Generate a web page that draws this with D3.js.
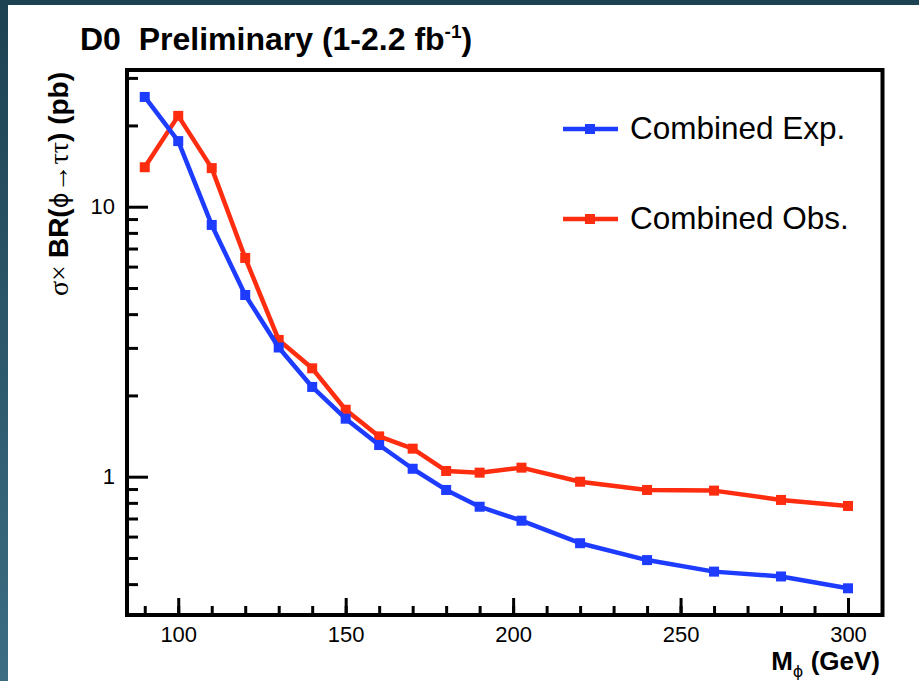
<!DOCTYPE html>
<html>
<head>
<meta charset="utf-8">
<script src="https://cdn.jsdelivr.net/npm/d3@7"></script>
<style>
  html, body { margin: 0; padding: 0; background: #fff; }
  svg { display: block; }
  text { font-family: "Liberation Sans", Arial, Helvetica, sans-serif; fill: #000; white-space: pre; }
</style>
</head>
<body>
<div id="chart"></div>
<script>
// values
const masses = [90, 100, 110, 120, 130, 140, 150, 160, 170, 180, 190, 202.5, 220, 240, 260, 280, 300];
const expLimit = [25.5, 17.5, 8.56, 4.71, 3.01, 2.15, 1.64, 1.31, 1.07, 0.893, 0.774, 0.687, 0.567, 0.491, 0.445, 0.427, 0.386];
const obsLimit = [14.0, 21.7, 13.9, 6.46, 3.21, 2.52, 1.77, 1.41, 1.27, 1.05, 1.035, 1.08, 0.958, 0.893, 0.888, 0.820, 0.779];
const xTickValues = [100, 150, 200, 250, 300];
const yTickValues = [1, 10];
const seriesNames = ["Combined Exp.", "Combined Obs."];

const W = 919, H = 681;
const blue = "#1e3cff", red = "#ff2d10";

const svg = d3.select("#chart").append("svg")
    .attr("width", W)
    .attr("height", H);

// slide background
const grad = svg.append("defs").append("linearGradient")
    .attr("id", "bg").attr("x1", 0).attr("y1", 0).attr("x2", 0).attr("y2", 1);
grad.append("stop").attr("offset", "0%").attr("stop-color", "#1d4252");
grad.append("stop").attr("offset", "100%").attr("stop-color", "#3c6d83");
svg.append("rect").attr("width", W).attr("height", H).attr("fill", "url(#bg)");
svg.append("rect").attr("x", 8).attr("y", 5).attr("width", W - 8).attr("height", H - 5).attr("fill", "#fff");

// frame
const fLeft = 127, fRight = 882.5, fTop = 70, fBottom = 615;

const x = d3.scaleLinear().domain([84.7, 310.3]).range([fLeft, fRight]);
const y = d3.scaleLog().domain([0.3074, 32.09]).range([fBottom, fTop]);

// x axis, ticks point inward
const xMinor = svg.append("g")
    .attr("transform", "translate(0," + fBottom + ")")
    .call(d3.axisBottom(x).tickValues(d3.range(90, 310, 10)).tickSize(-9).tickFormat(""));
const xMajor = svg.append("g")
    .attr("transform", "translate(0," + fBottom + ")")
    .call(d3.axisBottom(x).tickValues(xTickValues).tickSize(-17).tickPadding(11).tickFormat(d3.format("d")));

// y axis
const yMinor = svg.append("g")
    .attr("transform", "translate(" + fLeft + ",0)")
    .call(d3.axisLeft(y).tickValues(y.ticks().filter(d => yTickValues.indexOf(d) < 0)).tickSize(-11).tickFormat(""));
const yMajor = svg.append("g")
    .attr("transform", "translate(" + fLeft + ",0)")
    .call(d3.axisLeft(y).tickValues(yTickValues).tickSize(-21).tickPadding(12).tickFormat(d3.format("d")));

[xMinor, xMajor, yMinor, yMajor].forEach(g => {
    g.select(".domain").remove();
    g.selectAll(".tick line").attr("stroke", "#000").attr("stroke-width", 3);
    g.selectAll(".tick text").attr("font-size", 22).attr("fill", "#000");
});
svg.selectAll("g").attr("font-family", null);
xMajor.selectAll(".tick text").attr("dy", "0.72em");

svg.append("rect")
    .attr("x", fLeft).attr("y", fTop)
    .attr("width", fRight - fLeft).attr("height", fBottom - fTop)
    .attr("fill", "none").attr("stroke", "#000").attr("stroke-width", 4);

// curves
const line = d3.line().x(d => x(d[0])).y(d => y(d[1]));

function drawSeries(values, colour) {
    const pts = masses.map((m, i) => [m, values[i]]);
    svg.append("path")
        .datum(pts)
        .attr("fill", "none")
        .attr("stroke", colour)
        .attr("stroke-width", 4.5)
        .attr("stroke-linejoin", "round")
        .attr("d", line);
    svg.append("g").selectAll("rect")
        .data(pts)
        .enter()
        .append("rect")
        .attr("x", d => x(d[0]) - 5)
        .attr("y", d => y(d[1]) - 5)
        .attr("width", 10)
        .attr("height", 10)
        .attr("fill", colour);
}
drawSeries(obsLimit, red);
drawSeries(expLimit, blue);

// legend
const legendY = [129, 219];
[blue, red].forEach((c, i) => {
    svg.append("line")
        .attr("x1", 563).attr("x2", 618)
        .attr("y1", legendY[i]).attr("y2", legendY[i])
        .attr("stroke", c).attr("stroke-width", 4.5);
    svg.append("rect")
        .attr("x", 585).attr("y", legendY[i] - 5)
        .attr("width", 10).attr("height", 10)
        .attr("fill", c);
    svg.append("text")
        .attr("x", 630).attr("y", legendY[i] + 10)
        .attr("font-size", 31.5)
        .text(seriesNames[i]);
});

// title
const title = svg.append("text")
    .attr("x", 80).attr("y", 50)
    .attr("font-size", 32)
    .attr("font-weight", "bold");
title.append("tspan").text("D0  Preliminary (1-2.2 fb");
title.append("tspan").attr("font-size", 19).attr("dy", -12).text("-1");
title.append("tspan").attr("dy", 12).text(")");

// x axis title
const xt = svg.append("text")
    .attr("x", 880).attr("y", 670)
    .attr("text-anchor", "end")
    .attr("font-size", 26)
    .attr("font-weight", "bold");
xt.append("tspan").text("M");
xt.append("tspan").attr("font-size", 16).attr("dy", 7)
    .attr("font-family", "'DejaVu Sans', sans-serif").attr("font-weight", "normal").text("ϕ");
xt.append("tspan").attr("dy", -7).text(" (GeV)");

// y axis title
const yt = svg.append("text")
    .attr("transform", "translate(68,72) rotate(-90)")
    .attr("text-anchor", "end")
    .attr("font-size", 28);
yt.append("tspan").attr("font-family", "'Liberation Serif', serif").text("σ× ");
yt.append("tspan").attr("font-weight", "bold").text("BR(");
yt.append("tspan").attr("font-family", "'DejaVu Sans', sans-serif").attr("font-weight", "normal").attr("font-size", 24).text("ϕ");
yt.append("tspan").attr("font-family", "'Liberation Serif', serif").text("→ττ");
yt.append("tspan").attr("font-weight", "bold").text(") (pb)");
</script>
</body>
</html>
